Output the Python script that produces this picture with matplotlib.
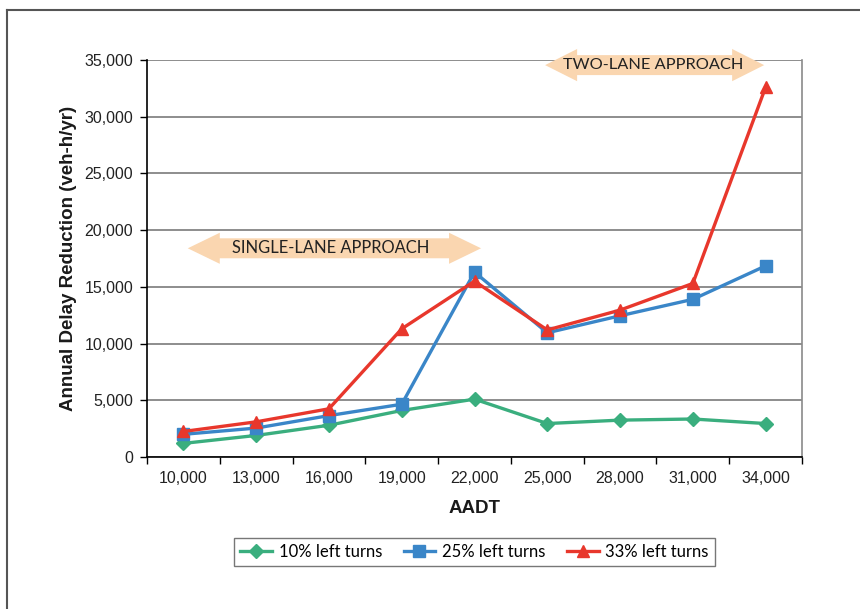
import matplotlib
matplotlib.use('Agg')
import matplotlib.pyplot as plt
from matplotlib.lines import Line2D
from matplotlib.patches import Polygon

# values
aadt = ['10,000', '13,000', '16,000', '19,000', '22,000', '25,000', '28,000', '31,000', '34,000']
left10 = [1200, 1900, 2800, 4100, 5100, 2950, 3250, 3350, 2950]
left25 = [2000, 2550, 3650, 4650, 16300, 10950, 12450, 13900, 16850]
left33 = [2250, 3100, 4250, 11300, 15500, 11200, 12950, 15300, 32600]
yticks = [0, 5000, 10000, 15000, 20000, 25000, 30000, 35000]

GREEN = '#3aae7e'
BLUE = '#3a86c8'
RED = '#e8372c'
PEACH = '#fad6b0'

plt.rcParams['font.family'] = ['Liberation Sans', 'DejaVu Sans']

fig = plt.figure(figsize=(8.6, 6.09), dpi=100)
ax = fig.add_axes([147 / 860, 152 / 609, 655 / 860, 397 / 609])

x = list(range(len(aadt)))
ax.plot(x, left10, color=GREEN, lw=2.4, marker='D', ms=7, label='10% left turns', zorder=3)
ax.plot(x, left25, color=BLUE, lw=2.4, marker='s', ms=8, label='25% left turns', zorder=4)
ax.plot(x, left33, color=RED, lw=2.4, marker='^', ms=9, label='33% left turns', zorder=5)

ax.set_xlim(-0.5, len(aadt) - 0.5)
ax.set_ylim(0, 35000)
ax.set_yticks(yticks)
ax.set_yticklabels([f'{v:,}' for v in yticks], fontsize=11.5, color='#222222')
ax.set_xticks(x)
ax.set_xticklabels(aadt, fontsize=11.5, color='#222222')
ax.set_xticks([i - 0.5 for i in range(len(aadt) + 1)], minor=True)
ax.tick_params(axis='x', which='major', length=0, pad=10)
ax.tick_params(axis='x', which='minor', length=5, width=1, color='black', direction='out')
ax.tick_params(axis='y', length=5, width=1, color='black', direction='out', pad=5)

ax.grid(axis='y', color='#7a7a7a', lw=1.2, zorder=1)
ax.spines['right'].set_color('#8a8a8a')
ax.spines['right'].set_linewidth(1.2)
ax.spines['top'].set_visible(False)
for s in ['left', 'bottom']:
    ax.spines[s].set_color('black')
    ax.spines[s].set_linewidth(1.2)

ax.set_ylabel('Annual Delay Reduction (veh-h/yr)', fontsize=13.5, fontweight='bold',
              labelpad=5, color='#1a1a1a')
ax.set_xlabel('AADT', fontsize=13.5, fontweight='bold', labelpad=10, color='#1a1a1a')


def double_arrow(x0, x1, yc, head_len, head_h, body_h):
    pts = [(x0, yc), (x0 + head_len, yc + head_h), (x0 + head_len, yc + body_h),
           (x1 - head_len, yc + body_h), (x1 - head_len, yc + head_h), (x1, yc),
           (x1 - head_len, yc - head_h), (x1 - head_len, yc - body_h),
           (x0 + head_len, yc - body_h), (x0 + head_len, yc - head_h)]
    ax.add_patch(Polygon(pts, closed=True, facecolor=PEACH, edgecolor='none',
                         zorder=2, clip_on=False))


double_arrow(0.06, 4.09, 18400, 0.44, 1370, 880)
ax.text(2.02, 18400, 'SINGLE-LANE APPROACH', ha='center', va='center', fontsize=11.9,
        family=['Lato', 'DejaVu Sans'], color='#222222', zorder=6)
double_arrow(4.97, 7.98, 34550, 0.44, 1420, 880)
ax.text(6.46, 34550, 'TWO-LANE APPROACH', ha='center', va='center', fontsize=11.8,
        family=['Lato', 'DejaVu Sans'], color='#222222', zorder=6)

leg = ax.legend(loc='upper center', bbox_to_anchor=(0.5, -0.205), ncol=3, frameon=True,
                fancybox=False, edgecolor='#555555', handlelength=1.9,
                columnspacing=1.3, handletextpad=0.4, borderpad=0.35, borderaxespad=0,
                prop={'family': ['Lato', 'DejaVu Sans'], 'size': 12})
leg.get_frame().set_linewidth(1.0)

# outer frame of the figure (cropped at right and bottom)
fig.add_artist(Line2D([7 / 860, 7 / 860], [0, 1 - 10 / 609], color='#555555', lw=1.5))
fig.add_artist(Line2D([7 / 860, 1], [1 - 10 / 609, 1 - 10 / 609], color='#555555', lw=1.5))

fig.savefig('out.png', dpi=100)
